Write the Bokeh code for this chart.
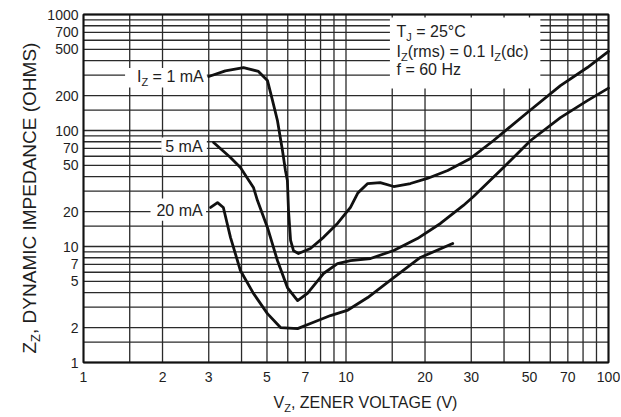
import math
from bokeh.plotting import figure
from bokeh.models import Range1d, Label, BoxAnnotation
from bokeh.embed import file_html
from bokeh.resources import INLINE

# ---------------- data ----------------
V_1MA = [3.0, 3.47, 4.07, 4.64, 5.02, 5.25, 5.48, 5.73, 5.88, 5.98, 6.04, 6.15, 6.31, 6.59,
         7.32, 8.21, 9.28, 10.4, 11.1, 12.1, 13.5, 15.2, 17.6, 20.4, 24.4, 29.8, 36.5, 49.1,
         65.6, 83.1, 100]
Z_1MA = [292, 327, 349, 323, 270, 181, 122, 67, 45, 37, 20.4, 11.3, 9.2, 8.7,
         9.6, 12.0, 15.8, 21.7, 29, 34.9, 35.6, 32.9, 34.9, 38.6, 45.2, 57.4, 82, 143,
         244, 349, 480]

V_5MA = [3.13, 3.63, 3.96, 4.44, 4.60, 5.02, 5.48, 5.98, 6.54, 7.13, 8.21, 9.28, 10.4,
         12.4, 15.2, 18.7, 22.9, 28.0, 30.6, 39.8, 50.5, 65.6, 83.1, 100]
Z_5MA = [78.8, 58.5, 48, 32.3, 24.9, 14.6, 7.57, 4.43, 3.42, 3.94, 5.85, 7.13, 7.57,
         7.88, 9.24, 11.7, 15.8, 22.6, 27.0, 48, 82, 129, 181, 232]

V_20MA = [3.05, 3.24, 3.41, 3.63, 3.96, 4.44, 5.02, 5.63, 6.54, 7.32, 8.73, 10.1, 12.1,
          15.2, 19.2, 25.5]
Z_20MA = [21.7, 23.9, 21.7, 12.0, 6.21, 3.94, 2.64, 2.0, 1.96, 2.17, 2.54, 2.81, 3.63,
          5.40, 8.04, 10.6]

X_MIN, X_MAX = 1, 100
Y_MIN, Y_MAX = 1, 1000

X_TICKS = [1, 2, 3, 5, 7, 10, 20, 30, 50, 70, 100]
X_TICK_LABELS = ["1", "2", "3", "5", "7", "10", "20", "30", "50", "70", "100"]
Y_TICKS = [1, 2, 5, 7, 10, 20, 50, 70, 100, 200, 500, 700, 1000]
Y_TICK_LABELS = ["1", "2", "5", "7", "10", "20", "50", "70", "100", "200", "500", "700", "1000"]

X_GRID = [1, 1.5, 2, 3, 4, 5, 6, 7, 8, 9, 10, 15, 20, 30, 40, 50, 60, 70, 80, 90, 100]
Y_GRID = [1, 1.5, 2, 3, 4, 5, 6, 7, 8, 9,
          10, 15, 20, 30, 40, 50, 60, 70, 80, 90,
          100, 150, 200, 300, 400, 500, 600, 700, 800, 900, 1000]

# ---------------- layout ----------------
W, H = 620, 416
PLOT_L, PLOT_R, PLOT_T, PLOT_B = 83, 608, 14, 362   # pixel box of the log grid
xdec = (PLOT_R - PLOT_L) / math.log10(X_MAX / X_MIN)
ydec = (PLOT_B - PLOT_T) / math.log10(Y_MAX / Y_MIN)
x_lo = X_MIN * 10 ** (-PLOT_L / xdec)
x_hi = X_MIN * 10 ** ((W - PLOT_L) / xdec)
y_lo = Y_MIN * 10 ** (-(H - PLOT_B) / ydec)
y_hi = Y_MIN * 10 ** (PLOT_B / ydec)

FONT = "Liberation Sans"
TXT = "#1e1e1e"
GRID = "#2a2a2a"

# Arial / Liberation Sans advance widths (per 1000 em) for text composition
AW = {' ': 278, '(': 333, ')': 333, '=': 584, '.': 278, ',': 278, '°': 400,
      'A': 667, 'C': 722, 'D': 722, 'E': 667, 'G': 778, 'H': 722, 'I': 278, 'J': 500,
      'L': 556, 'M': 833, 'N': 722, 'O': 778, 'P': 667, 'R': 722, 'S': 667, 'T': 611,
      'V': 667, 'Y': 667, 'Z': 611, 'a': 556, 'c': 500, 'd': 556, 'f': 278, 'm': 833,
      'r': 333, 's': 500, 'z': 500}


def tw(s, size):
    return sum(AW.get(c, 556) for c in s) * size / 1000.0


p = figure(x_axis_type="log", y_axis_type="log",
           x_range=Range1d(x_lo, x_hi), y_range=Range1d(y_lo, y_hi),
           width=W, height=H, min_border=0,
           x_axis_location=None, y_axis_location=None,
           output_backend="svg", toolbar_location=None,
           background_fill_color="white", border_fill_color="white")
p.outline_line_color = None
p.xgrid.visible = False
p.ygrid.visible = False

# grid lines of the chart paper
p.segment(x0=X_GRID, y0=[Y_MIN] * len(X_GRID), x1=X_GRID, y1=[Y_MAX] * len(X_GRID),
          line_color=GRID, line_width=1.3)
p.segment(x0=[X_MIN] * len(Y_GRID), y0=Y_GRID, x1=[X_MAX] * len(Y_GRID), y1=Y_GRID,
          line_color=GRID, line_width=1.3)
# frame
p.quad(left=[X_MIN], right=[X_MAX], bottom=[Y_MIN], top=[Y_MAX],
       fill_color=None, line_color="#111111", line_width=2)

# curves
for xs, ys in ((V_1MA, Z_1MA), (V_5MA, Z_5MA), (V_20MA, Z_20MA)):
    p.line(xs, ys, line_color="#111111", line_width=2.8, line_join="round", line_cap="round")

# white backgrounds behind the labels
for l, r, b, t in ((1.44, 2.95, 235, 345), (1.98, 2.95, 61, 87),
                   (1.8, 2.93, 16.7, 25.9), (14.7, 55.0, 230, 940)):
    p.add_layout(BoxAnnotation(left=l, right=r, bottom=b, top=t,
                               fill_color="white", fill_alpha=1.0,
                               line_color=None, line_alpha=0))

# tick labels
for v, s in zip(X_TICKS, X_TICK_LABELS):
    p.add_layout(Label(x=v, y=Y_MIN, y_offset=-9, text=s, text_font=FONT,
                       text_font_size="14px", text_color=TXT,
                       text_align="center", text_baseline="top"))
for v, s in zip(Y_TICKS, Y_TICK_LABELS):
    p.add_layout(Label(x=X_MIN, y=v, x_offset=-5, text=s, text_font=FONT,
                       text_font_size="14px", text_color=TXT,
                       text_align="right", text_baseline="middle"))

SUB_DROP = 4


def run(pieces, x, y, xu, yu, x0, y0, size, sub_size, angle=0.0):
    """Compose a text from pieces (text, is_subscript); anchor = centre of capitals."""
    sub_shift = 0.358 * size + SUB_DROP - 0.358 * sub_size
    cursor = 0.0
    for text, sub in pieces:
        fs = sub_size if sub else size
        lead = len(text) - len(text.lstrip(" "))
        cursor += tw(" " * lead, fs)
        body = text.lstrip(" ")
        if angle == 0:
            xo, yo = x0 + cursor, y0 - (sub_shift if sub else 0)
        else:
            xo, yo = x0 + (sub_shift if sub else 0), y0 + cursor
        p.add_layout(Label(x=x, y=y, x_units=xu, y_units=yu, x_offset=xo, y_offset=yo,
                           text=body, angle=angle, text_font=FONT,
                           text_font_size=f"{fs}px", text_color=TXT,
                           text_align="left", text_baseline="middle"))
        cursor += tw(body, fs)


def total(pieces, size, sub_size):
    return sum(tw(t, sub_size if s else size) for t, s in pieces)


# curve labels (right aligned, anchored at the start of each curve)
lab1 = [("I", False), ("Z", True), (" = 1 mA", False)]
lab5 = [("5 mA", False)]
lab20 = [("20 mA", False)]
for pieces, xs, ys, gap, dy in ((lab1, V_1MA, Z_1MA, 5, 0),
                                (lab5, V_5MA, Z_5MA, 11, -4),
                                (lab20, V_20MA, Z_20MA, 8, -3)):
    run(pieces, xs[0], ys[0], "data", "data", -gap - total(pieces, 16, 11), dy, 16, 11)

# conditions block (screen units, measured from bottom-left of the canvas)
run([("T", False), ("J", True), (" = 25°C", False)], 396, H - 31, "screen", "screen", 0, 0, 16, 11)
run([("I", False), ("Z", True), ("(rms) = 0.1 I", False), ("Z", True), ("(dc)", False)],
    396, H - 51, "screen", "screen", 0, 0, 16, 11)
run([("f = 60 Hz", False)], 396, H - 69, "screen", "screen", 0, 0, 16, 11)

# axis titles
run([("V", False), ("Z", True), (", ZENER VOLTAGE (V)", False)],
    273, H - 402, "screen", "screen", 0, 0, 16, 11)
run([("Z", False), ("Z", True), (", DYNAMIC IMPEDANCE (OHMS)", False)],
    28.5, H - 353, "screen", "screen", 0, 0, 19, 13, angle=math.pi / 2)

open("out.html", "w").write(file_html(p, INLINE))
